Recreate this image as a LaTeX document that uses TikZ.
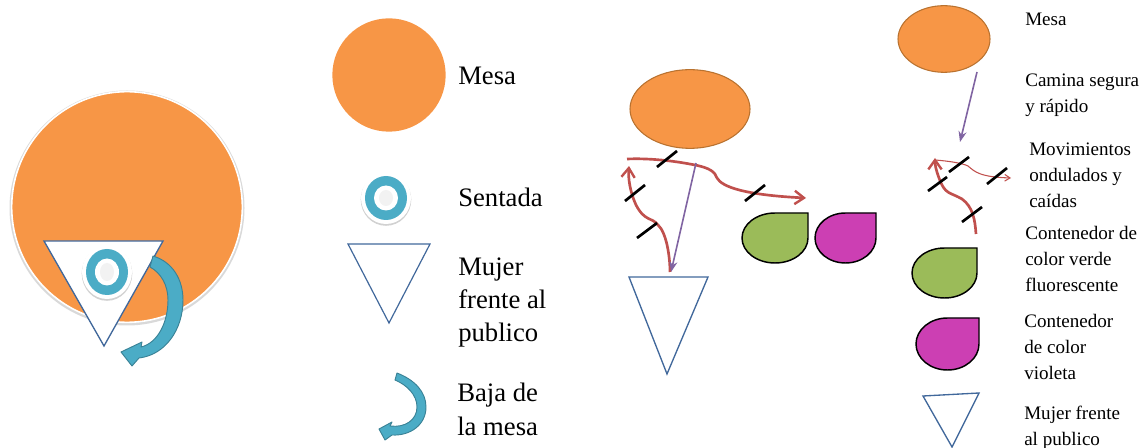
\documentclass[tikz,border=0pt]{standalone}
\usepackage{fontspec}
\setmainfont{Liberation Serif}
\usetikzlibrary{arrows.meta,shapes.geometric}
\definecolor{mesaor}{HTML}{F79646}
\definecolor{mesaline}{HTML}{B9722F}
\definecolor{ringteal}{HTML}{4BACC6}
\definecolor{arrowline}{HTML}{3A8296}
\definecolor{triline}{HTML}{41689B}
\definecolor{redline}{HTML}{C0504D}
\definecolor{purpleline}{HTML}{8064A2}
\definecolor{dropgreen}{HTML}{9BBB59}
\definecolor{dropviolet}{HTML}{CC3FB3}
\tikzset{
  x=0.75pt,y=-0.75pt,
  bigtext/.style={anchor=base west,inner sep=0pt,font=\fontsize{20}{25}\selectfont,align=left},
  smalltext/.style={anchor=base west,inner sep=0pt,font=\fontsize{14.3}{19.5}\selectfont,align=left},
  woman/.style={draw=triline,line width=1pt,line join=miter},
  redmove/.style={draw=redline,line width=2pt,-{Straight Barb[length=7pt,width=10pt,line width=1.8pt]}},
  thinmove/.style={draw=redline,line width=.8pt,-{Straight Barb[length=4pt,width=5pt,line width=.8pt]}},
  walk/.style={draw=purpleline,line width=1.2pt,-{Stealth[length=8pt,width=6pt]}},
  tick/.style={draw=black,line width=2pt},
  tealarrow/.style={draw=arrowline,line width=.7pt,fill=ringteal,line join=round},
  dropshape/.style={draw=black,line width=1.1pt,line join=miter},
}
\newcommand{\dropat}[5]{% x1 y1 x2 y2 colour
  \pgfmathsetmacro{\xm}{(#1+#3)/2}\pgfmathsetmacro{\ym}{(#2+#4)/2}
  \pgfmathsetmacro{\kx}{0.5523*(#3-#1)/2}\pgfmathsetmacro{\ky}{0.5523*(#4-#2)/2}
  \draw[dropshape,fill=#5] (#3,#2) -- (#3,\ym)
    .. controls (#3,\ym+\ky) and (\xm+\kx,#4) .. (\xm,#4)
    .. controls (\xm-\kx,#4) and (#1,\ym+\ky) .. (#1,\ym)
    .. controls (#1,\ym-\ky) and (\xm-\kx,#2) .. (\xm,#2) -- cycle;
}
\newcommand{\ringat}[4]{% cx cy rx ry
  \fill[black!18] (#1,#2+1.5) ellipse [x radius=#3+4.3,y radius=#4+4.3];
  \fill[white] (#1,#2) ellipse [x radius=#3+4,y radius=#4+4];
  \fill[ringteal] (#1,#2) ellipse [x radius=#3,y radius=#4];
  \fill[white] (#1,#2) ellipse [x radius=#3-9,y radius=#4-9.5];
  \fill[black!5] (#1,#2) ellipse [x radius=#3-14,y radius=#4-14];
}
\begin{document}
\begin{tikzpicture}
\useasboundingbox (0,0) rectangle (1148,448);
% left composite
\fill[black!15] (127,208) circle [radius=117.5];
\node[circle,fill=mesaor,draw=white,line width=1.2pt,minimum size=173pt,inner sep=0pt] (bigmesa) at (127,207) {};
\draw[woman,fill=white] (44,241) -- (163,241) -- (104,346) -- cycle;
\ringat{107}{272}{21}{23}
\draw[tealarrow] (153,256) .. controls (173,262) and (183,280) .. (183,300)
  .. controls (183,330) and (165,355) .. (139,358) -- (132,366) -- (121,352) -- (142,342) -- (141,347)
  .. controls (158,343) and (168,322) .. (168,300)
  .. controls (168,285) and (161,273) .. (150,267) -- cycle;
% legend
\node[circle,fill=mesaor,minimum size=85pt,inner sep=0pt] (legmesa) at (389,75) {};
\node[bigtext] (tmesa) at (458,85) {Mesa};
\ringat{386}{198}{21}{22}
\node[bigtext] (tsent) at (458,207) {Sentada};
\draw[woman,line width=.9pt] (348,244) -- (430,244) -- (389,323) -- cycle;
\node[bigtext] (tmujer) at (458,342) {Mujer\\frente al\\publico};
\draw[tealarrow] (397,373) .. controls (415,380) and (426,392) .. (426,407)
  .. controls (426,425) and (410,436) .. (392,435) -- (385,440) -- (379,429) -- (392,422) -- (390,426)
  .. controls (405,428) and (417,420) .. (417,407)
  .. controls (417,395) and (407,385) .. (395,380) -- cycle;
\node[bigtext] (tbaja) at (457,435) {Baja de\\la mesa};
% middle scene
\node[ellipse,draw=mesaline,line width=.8pt,fill=mesaor,minimum width=90pt,minimum height=59pt,inner sep=0pt] (midmesa) at (690,109) {};
\draw[woman] (629,277) -- (708,277) -- (667,374) -- cycle;
\dropat{742}{213}{808}{263}{dropgreen}
\dropat{815}{213}{876}{263}{dropviolet}
\draw[redmove] (627,159) .. controls (650,158) and (675,161) .. (695,165)
  .. controls (710,168) and (715,172) .. (717,178)
  .. controls (722,187) and (745,195) .. (806,198);
\draw[redmove] (670,272) .. controls (670,255) and (666,232) .. (658,225)
  .. controls (652,217) and (645,222) .. (636,205)
  .. controls (630,192) and (628,178) .. (629,166);
\draw[walk] (696,163) -- (671,272);
\draw[tick] (657,167) -- (677,151);
\draw[tick] (625,201) -- (645,185);
\draw[tick] (637,238) -- (657,223);
\draw[tick] (745,201) -- (765,185);
% right legend
\node[ellipse,draw=mesaline,line width=.8pt,fill=mesaor,minimum width=69pt,minimum height=50pt,inner sep=0pt] (rmesa) at (944,39) {};
\node[smalltext] (rtmesa) at (1025,26) {Mesa};
\draw[walk] (977,72) -- (960,142);
\node[smalltext] (rtcam) at (1025,113) {Camina segura\\y rápido};
\draw[redmove] (976,234) .. controls (975,220) and (973,207) .. (962,199)
  .. controls (950,192) and (945,195) .. (939,178)
  .. controls (936,170) and (935,165) .. (935,158);
\draw[thinmove] (935,160) .. controls (948,161) and (962,163) .. (968,166)
  .. controls (975,172) and (980,177) .. (1011,178);
\draw[tick] (949,172) -- (969,157);
\draw[tick] (928,191) -- (947,177);
\draw[tick] (987,184) -- (1007,168);
\draw[tick] (962,222) -- (982,207);
\node[smalltext] (rtmov) at (1029,208) {Movimientos\\ondulados y\\caídas};
\dropat{912}{248}{977}{298}{dropgreen}
\node[smalltext] (rtgreen) at (1025,292) {Contenedor de\\color verde\\fluorescente};
\dropat{916}{318}{979}{370}{dropviolet}
\node[smalltext] (rtviol) at (1024,380) {Contenedor\\de color\\violeta};
\draw[woman] (923,396) -- (979,393) -- (952,447) -- cycle;
\node[smalltext] (rtmuj) at (1024,445) {Mujer frente\\al publico};
\end{tikzpicture}
\end{document}
